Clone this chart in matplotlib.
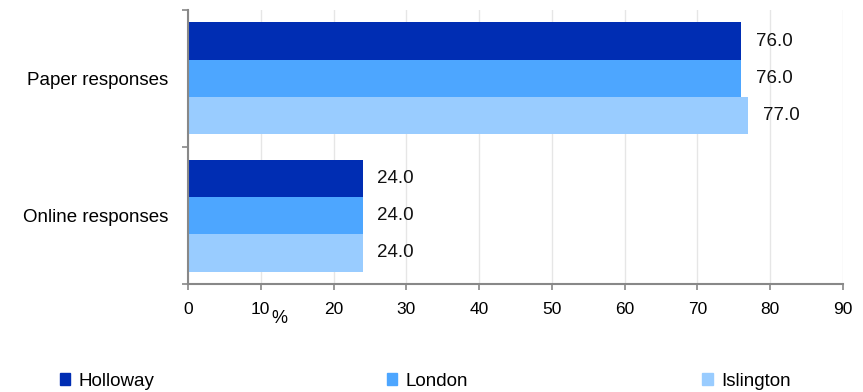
import numpy as np
import matplotlib.pyplot as plt
from matplotlib.patches import Rectangle

plt.rcParams['font.family'] = ['Liberation Sans', 'DejaVu Sans']

categories = ['Paper responses', 'Online responses']
series = ['Holloway', 'London', 'Islington']
values = {
    'Holloway': [76.0, 24.0],
    'London': [76.0, 24.0],
    'Islington': [77.0, 24.0],
}
colors = ['#002db3', '#4da6ff', '#99ccff']
xticks = [0, 10, 20, 30, 40, 50, 60, 70, 80, 90]

fig = plt.figure(figsize=(8.63, 3.92), dpi=100)
ax = fig.add_axes([0.2178, 0.2755, 0.759, 0.699])

y = np.arange(len(categories))
h = 0.2725
for i, (name, col) in enumerate(zip(series, colors)):
    pos = y + (i - 1) * h
    ax.barh(pos, values[name], height=h, color=col, zorder=2)
    for p, v in zip(pos, values[name]):
        ax.text(v + 2.0, p, f'{v:.1f}', va='center', ha='left', fontsize=13.5, color='#111111')

ax.set_xlim(0, 90)
ax.set_ylim(1.5, -0.5)
ax.set_xticks(xticks)
ax.set_xticklabels([str(t) for t in xticks], fontsize=12.5)
ax.grid(axis='x', color='#e6e6e6', linewidth=1, zorder=0)

ax.set_yticks(y)
ax.set_yticklabels(categories, fontsize=13.5)
ax.set_yticks([-0.5, 0.5, 1.5], minor=True)
ax.tick_params(axis='y', which='major', length=0, pad=14)
ax.tick_params(axis='y', which='minor', length=4, color='#888888', width=1.2)
ax.tick_params(axis='x', length=4, color='#888888', width=1.2, pad=9)

for s in ['top', 'right']:
    ax.spines[s].set_visible(False)
for s in ['left', 'bottom']:
    ax.spines[s].set_color('#888888')
    ax.spines[s].set_linewidth(1.5)

ax.set_xlabel('%', fontsize=13)
ax.xaxis.set_label_coords(0.14, -0.095)

# legend laid out across the bottom
handles = [Rectangle((0, 0), 1, 1, color=c) for c in colors]
leg_x = [0.069, 0.448, 0.814]
for hd, name, lx in zip(handles, series, leg_x):
    fig.legend([hd], [name], loc='center left', bbox_to_anchor=(lx, 0.028),
               frameon=False, handlelength=0.55, handleheight=0.55,
               handletextpad=0.45, borderaxespad=0, borderpad=0,
               prop={'size': 13.5})

fig.savefig('out.png', dpi=100)
